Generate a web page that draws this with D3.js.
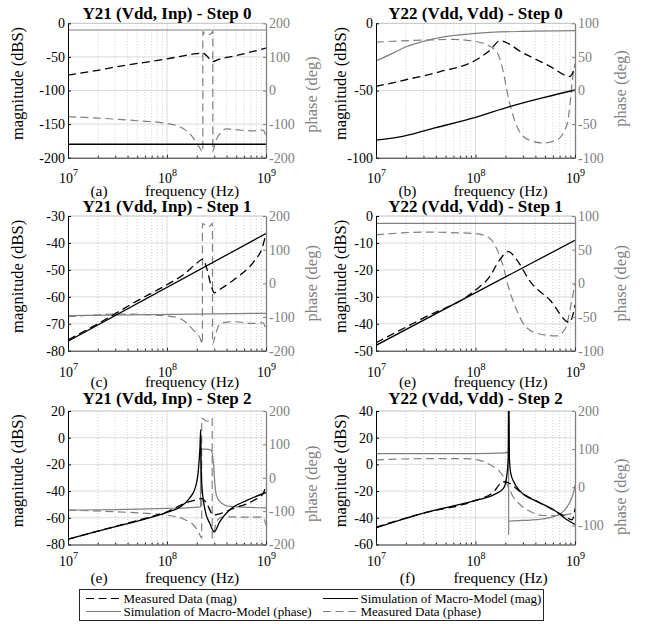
<!DOCTYPE html>
<html><head><meta charset="utf-8">
<script src="https://cdn.jsdelivr.net/npm/d3@7"></script>
<style>
body{margin:0;background:#fff}
svg{display:block}
text{font-family:"Liberation Serif","Times New Roman",serif}
</style>
</head><body>
<svg id="chart" width="646" height="624"></svg>
<script>
// ---------------- data (frequency Hz, value) ----------------
const xTicks = [1e7, 1e8, 1e9];
const titles = ["Y21 (Vdd, Inp) - Step 0","Y22 (Vdd, Vdd) - Step 0","Y21 (Vdd, Inp) - Step 1","Y22 (Vdd, Vdd) - Step 1","Y21 (Vdd, Inp) - Step 2","Y22 (Vdd, Vdd) - Step 2"];
const panelTags = ["(a)","(b)","(c)","(e)","(e)","(f)"];
const magDomains = [[-200,0],[-100,0],[-80,-30],[-50,0],[-80,20],[-60,40]];
const magTicks = [[-200,-150,-100,-50,0],[-100,-50,0],[-80,-70,-60,-50,-40,-30],[-50,-40,-30,-20,-10,0],[-80,-60,-40,-20,0,20],[-60,-40,-20,0,20,40]];
const phDomains = [[-200,200],[-100,100],[-200,200],[-100,100],[-200,200],[-150,200]];
const phTicks = [[-200,-100,0,100,200],[-100,-50,0,50,100],[-200,-100,0,100,200],[-100,-50,0,50,100],[-200,-100,0,100,200],[-100,0,100,200]];
const legendLabels = ["Measured Data (mag)","Simulation of Macro-Model (mag)","Simulation of Macro-Model (phase)","Measured Data (phase)"];

// (a) Y21 Step 0
const aMeasMag = [[1e7,-77],[2e7,-70],[3e7,-65],[1e8,-53],[2e8,-45],[2.3e8,-44],[2.5e8,-48],[2.9e8,-57],[3.3e8,-54],[5e8,-48],[1e9,-37]];
const aSimMag  = [[1e7,-180],[1e9,-180]];
const aSimPh   = [[1e7,180],[1e9,180]];
const aMeasPh  = [[1e7,-78],[2e7,-82],[5e7,-90],[1e8,-98],[1.35e8,-108],[1.8e8,-137],[2.1e8,-167],[2.3e8,-182],[2.301e8,176],[2.4e8,168],[2.6e8,166],[2.8e8,170],[2.9e8,176],[2.901e8,-182],[3.05e8,-157],[3.5e8,-125],[4e8,-114],[5.5e8,-118],[7.3e8,-120],[9.3e8,-118],[1e9,-135]];
// (b) Y22 Step 0
const bMeasMag = [[1e7,-47],[2e7,-42],[4.4e7,-36],[1e8,-27.5],[1.4e8,-20],[1.76e8,-13],[3e8,-22],[5.6e8,-32],[8.9e8,-39.5],[1e9,-32]];
const bSimMag  = [[1e7,-87],[1.9e7,-84],[4e7,-77.7],[1e8,-70],[2.2e8,-62],[4.8e8,-55.3],[1e9,-49.6]];
const bSimPh   = [[1e7,44],[1.5e7,56],[2e7,65],[3e7,73],[4.5e7,79],[1e8,85],[3e8,88],[1e9,89]];
const bMeasPh  = [[1e7,72],[3e7,75],[6e7,76],[1e8,73],[1.5e8,63],[1.75e8,48],[1.95e8,20],[2.1e8,-5],[2.3e8,-29],[2.76e8,-61],[3.5e8,-74],[4.8e8,-78],[6.5e8,-74],[8.3e8,-51],[9e8,-14],[9.5e8,20],[1e9,40]];
// (c) Y21 Step 1
const cMeasMag = [[1e7,-76],[2e7,-70],[5e7,-61.5],[1e8,-55.5],[1.5e8,-51.5],[2e8,-47.5],[2.3e8,-46],[2.5e8,-49],[2.8e8,-56],[3e8,-58.5],[3.5e8,-57],[5e8,-53],[7.5e8,-47],[9.3e8,-41],[1e9,-36.5]];
const cSimMag  = [[1e7,-76.5],[1e9,-36.5]];
const cSimPh   = [[1e7,-96],[1e9,-89]];
const cMeasPh  = [[1e7,-99],[3.6e7,-91],[1e8,-97],[1.35e8,-104],[1.85e8,-139],[2.16e8,-163],[2.28e8,-180],[2.281e8,178],[2.5e8,170],[2.7e8,170],[2.88e8,178],[2.881e8,-180],[3.1e8,-150],[3.44e8,-119],[4.7e8,-114],[7.5e8,-119],[9.3e8,-117],[1e9,-139]];
// (e) Y22 Step 1
const dMeasMag = [[1e7,-47],[2.95e7,-38],[1e8,-27.5],[1.39e8,-22.5],[1.75e8,-16.3],[2.14e8,-13.2],[2.6e8,-16.3],[3.55e8,-24.4],[5.6e8,-31.2],[8.8e8,-39.5],[9.3e8,-38],[1e9,-33]];
const dSimMag  = [[1e7,-48],[1e9,-9]];
const dSimPh   = [[1e7,89],[1e9,89]];
const dMeasPh  = [[1e7,72],[3e7,76],[1e8,74],[1.39e8,67],[1.6e8,54],[1.9e8,25],[2.14e8,-5],[2.6e8,-40],[3e8,-59],[4.1e8,-74],[6.5e8,-78],[8e8,-67],[9.3e8,-25],[1e9,0]];
// (e) Y21 Step 2
const eMeasMag = [[1e7,-76],[2e7,-70],[5e7,-62],[1e8,-55.5],[1.6e8,-48.5],[2e8,-46.5],[2.25e8,-45.5],[2.5e8,-49],[2.95e8,-58],[3.4e8,-57],[4.7e8,-53],[7.5e8,-47],[9.3e8,-42],[1e9,-36]];
const eSimMag  = [[1e7,-76],[2e7,-70],[5e7,-62.5],[1e8,-56],[1.35e8,-52],[1.7e8,-45],[1.92e8,-38],[2.07e8,-25],[2.15e8,-8],[2.19e8,6],[2.21e8,-18],[2.24e8,-34],[2.42e8,-54],[2.7e8,-64],[3.0e8,-70.5],[3.4e8,-63],[4.3e8,-54],[6.4e8,-47],[1e9,-41]];
const eSimPh   = [[1e7,-97],[1e8,-92],[2.18e8,-87],[2.185e8,85],[2.5e8,86],[2.8e8,82],[2.95e8,40],[3.05e8,-20],[3.15e8,-52],[3.5e8,-75],[4.3e8,-86],[1e9,-90]];
const eMeasPh  = [[1e7,-97],[3e7,-102],[1e8,-112],[1.5e8,-125],[1.9e8,-145],[2.1e8,-165],[2.24e8,-180],[2.241e8,178],[2.5e8,170],[2.7e8,170],[2.86e8,178],[2.861e8,-180],[3.0e8,-160],[3.2e8,-128],[3.7e8,-117],[6e8,-118],[9.3e8,-118],[1e9,-142]];
// (f) Y22 Step 2
const fMeasMag = [[1e7,-47],[3e7,-36.5],[1e8,-27],[1.5e8,-21],[1.9e8,-13],[2.1e8,-13.5],[2.3e8,-15],[2.6e8,-18.5],[3e8,-22],[4.1e8,-27.5],[6e8,-34],[8e8,-39],[9.3e8,-41.5],[9.6e8,-40],[1e9,-33]];
const fSimMag  = [[1e7,-47.5],[3e7,-36.5],[1e8,-27],[1.5e8,-23],[1.91e8,-18],[2.06e8,-9],[2.13e8,5],[2.16e8,70],[2.19e8,5],[2.26e8,-6.5],[2.41e8,-12.7],[2.81e8,-20],[4.14e8,-27.7],[6.1e8,-34],[8.3e8,-41.5],[1e9,-45]];
const fSimPh   = [[1e7,88],[1e8,88.5],[2e8,90],[2.15e8,93],[2.152e8,-125],[2.16e8,-89],[3e8,-87],[4.1e8,-85],[6.1e8,-77],[7.5e8,-65],[8.3e8,-52],[9.2e8,-30],[9.7e8,-12],[1e9,6]];
const fMeasPh  = [[1e7,72],[3e7,75],[8e7,75],[1.2e8,68],[1.4e8,59],[1.7e8,45],[1.9e8,28.5],[2.1e8,5],[2.38e8,-24],[2.8e8,-45],[3.27e8,-58],[4.8e8,-74],[7e8,-74],[8.5e8,-71],[1e9,-67]];

const measMags = [aMeasMag,bMeasMag,cMeasMag,dMeasMag,eMeasMag,fMeasMag];
const simMags  = [aSimMag,bSimMag,cSimMag,dSimMag,eSimMag,fSimMag];
const simPhs   = [aSimPh,bSimPh,cSimPh,dSimPh,eSimPh,fSimPh];
const measPhs  = [aMeasPh,bMeasPh,cMeasPh,dMeasPh,eMeasPh,fMeasPh];

// ---------------- layout ----------------
const BLACK = "#000", GRAY = "#808080";
const DASH = "8,4.5";
const cols = [[68,266],[376,575]];
const rows = [[23.3,157.7],[216,350.7],[411,544.5]];
const titleBase = [18.5,212,403.5];
const tickBase = [25.5,26,21.5];
const xlabBase = [38.5,36,38];
const ylabX = [-45,-30];
const rLabOff = [4,-2,0,0,6,19];

const svg = d3.select("#chart");
const defs = svg.append("defs");

for (let i = 0; i < 6; i++) {
  const col = i % 2, row = Math.floor(i / 2);
  const [x0, x1] = cols[col], [y0, y1] = rows[row];
  const cx = (x0 + x1) / 2, cy = (y0 + y1) / 2;
  const x = d3.scaleLog().domain([1e7, 1e9]).range([x0, x1]);
  const yM = d3.scaleLinear().domain(magDomains[i]).range([y1, y0]);
  const yP = d3.scaleLinear().domain(phDomains[i]).range([y1, y0]);
  const g = svg.append("g");

  defs.append("clipPath").attr("id", "clip" + i).append("rect")
    .attr("x", x0).attr("y", y0).attr("width", x1 - x0).attr("height", y1 - y0);

  // minor grid
  const minor = [];
  for (const d of [1e7, 1e8]) for (let k = 2; k <= 9; k++) minor.push(d * k);
  g.append("g").selectAll("line").data(minor).join("line")
    .attr("x1", d => x(d)).attr("x2", d => x(d)).attr("y1", y0).attr("y2", y1)
    .attr("stroke", "#c4c4c4").attr("stroke-width", 0.8).attr("stroke-dasharray", "1,2");
  // major grid
  g.append("g").selectAll("line").data([1e8]).join("line")
    .attr("x1", d => x(d)).attr("x2", d => x(d)).attr("y1", y0).attr("y2", y1)
    .attr("stroke", "#dcdcdc").attr("stroke-width", 1);
  g.append("g").selectAll("line").data(magTicks[i].filter(v => v !== magDomains[i][0] && v !== magDomains[i][1])).join("line")
    .attr("x1", x0).attr("x2", x1).attr("y1", d => yM(d)).attr("y2", d => yM(d))
    .attr("stroke", "#dcdcdc").attr("stroke-width", 1);

  // top border
  g.append("line").attr("x1", x0).attr("x2", x1).attr("y1", y0).attr("y2", y0)
    .attr("stroke", "#c0c0c0").attr("stroke-width", 1);

  // curves
  const lineM = d3.line().x(d => x(d[0])).y(d => yM(d[1])).curve(d3.curveMonotoneX);
  const lineP = d3.line().x(d => x(d[0])).y(d => yP(d[1])).curve(d3.curveMonotoneX);
  const cg = g.append("g").attr("clip-path", `url(#clip${i})`);
  cg.append("path").datum(measPhs[i]).attr("d", lineP).attr("fill", "none")
    .attr("stroke", GRAY).attr("stroke-width", 1.2).attr("stroke-dasharray", DASH);
  cg.append("path").datum(simPhs[i]).attr("d", lineP).attr("fill", "none")
    .attr("stroke", GRAY).attr("stroke-width", 1.2);
  cg.append("path").datum(measMags[i]).attr("d", lineM).attr("fill", "none")
    .attr("stroke", BLACK).attr("stroke-width", 1.3).attr("stroke-dasharray", DASH);
  cg.append("path").datum(simMags[i]).attr("d", lineM).attr("fill", "none")
    .attr("stroke", BLACK).attr("stroke-width", 1.3);

  // left axis
  const axL = g.append("g").attr("transform", `translate(${x0},0)`)
    .call(d3.axisLeft(yM).tickValues(magTicks[i]).tickSize(-3).tickSizeOuter(0).tickPadding(3).tickFormat(d => String(d)));
  axL.select(".domain").attr("stroke", BLACK).attr("stroke-width", 1);
  axL.selectAll(".tick line").attr("stroke", BLACK);
  axL.selectAll(".tick text").attr("font-size", 14).attr("fill", BLACK).attr("font-family", "Liberation Serif");

  // right axis
  const axR = g.append("g").attr("transform", `translate(${x1},0)`)
    .call(d3.axisRight(yP).tickValues(phTicks[i]).tickSize(-3).tickSizeOuter(0).tickPadding(3).tickFormat(d => String(d)));
  axR.select(".domain").attr("stroke", GRAY).attr("stroke-width", 1.3);
  axR.selectAll(".tick line").attr("stroke", GRAY);
  axR.selectAll(".tick text").attr("font-size", 14).attr("fill", GRAY).attr("font-family", "Liberation Serif");

  // bottom axis with minor ticks
  const axBm = g.append("g").attr("transform", `translate(0,${y1})`)
    .call(d3.axisBottom(x).tickValues(minor).tickSize(-2).tickSizeOuter(0).tickFormat(() => ""));
  axBm.select(".domain").remove();
  axBm.selectAll(".tick line").attr("stroke", "#262626");
  const axB = g.append("g").attr("transform", `translate(0,${y1})`)
    .call(d3.axisBottom(x).tickValues(xTicks).tickSize(-3).tickSizeOuter(0).tickFormat(() => ""));
  axB.select(".domain").attr("stroke", "#262626").attr("stroke-width", 1);
  axB.selectAll(".tick line").attr("stroke", "#262626");
  axB.selectAll(".tick text").each(function (d) {
    const t = d3.select(this).text(null).attr("y", tickBase[row]).attr("dy", 0)
      .attr("font-size", 14).attr("fill", BLACK).attr("text-anchor", "middle").attr("font-family", "Liberation Serif");
    t.append("tspan").text("10");
    t.append("tspan").attr("dy", -7).attr("font-size", 10).text(Math.round(Math.log10(d)));
  });

  // title
  svg.append("text").attr("x", cx).attr("y", titleBase[row]).attr("text-anchor", "middle")
    .attr("font-size", 17).attr("font-weight", "bold").text(titles[i]);
  // x label with tag
  svg.append("text").attr("x", cx - 68).attr("y", y1 + xlabBase[row]).attr("text-anchor", "middle")
    .attr("font-size", 15.5).text(panelTags[i]);
  svg.append("text").attr("x", cx + 25).attr("y", y1 + xlabBase[row]).attr("text-anchor", "middle")
    .attr("font-size", 15.5).text("frequency (Hz)");
  // y labels
  const lx = x0 + ylabX[col], ly = cy - 7;
  svg.append("text").attr("transform", `translate(${lx},${ly}) rotate(-90)`).attr("text-anchor", "middle")
    .attr("font-size", 16.5).text("magnitude (dBS)");
  const rx = x1 + 50.5, ry = cy + rLabOff[i];
  svg.append("text").attr("transform", `translate(${rx},${ry}) rotate(-90)`).attr("text-anchor", "middle")
    .attr("font-size", 16.5).attr("fill", GRAY).text("phase (deg)");
}

// ---------------- legend ----------------
const leg = svg.append("g");
leg.append("rect").attr("x", 79.5).attr("y", 589.5).attr("width", 464).attr("height", 31)
  .attr("fill", "#fff").attr("stroke", "#262626").attr("stroke-width", 1);
const legItems = [
  {label: legendLabels[0], color: BLACK, dash: DASH, lx: 86, row: 0},
  {label: legendLabels[1], color: BLACK, dash: null, lx: 323, row: 0},
  {label: legendLabels[2], color: GRAY, dash: null, lx: 86, row: 1},
  {label: legendLabels[3], color: GRAY, dash: DASH, lx: 323, row: 1}
];
const legY = [598.5, 611.5];
legItems.forEach(it => {
  leg.append("line").attr("x1", it.lx).attr("x2", it.lx + 35).attr("y1", legY[it.row]).attr("y2", legY[it.row])
    .attr("stroke", it.color).attr("stroke-width", 1.2).attr("stroke-dasharray", it.dash);
  leg.append("text").attr("x", it.lx + 37.5).attr("y", legY[it.row] + 4.5).attr("font-size", 13).text(it.label);
});
</script>
</body></html>
